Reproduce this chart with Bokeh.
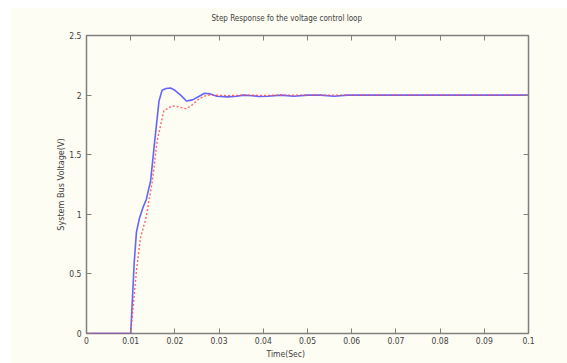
from bokeh.plotting import figure
from bokeh.models import Range1d, FixedTicker, LinearAxis, Title, CustomLabelingPolicy
from bokeh.embed import file_html
from bokeh.resources import INLINE

# Data
t_blue = [0.0, 0.0100, 0.0104, 0.0108, 0.0113, 0.0120, 0.0128, 0.0135, 0.0145, 0.01545,
          0.0164, 0.0171, 0.0180, 0.0190, 0.0198, 0.0213, 0.0226, 0.0240, 0.0255, 0.0267,
          0.0280, 0.0295, 0.0319, 0.0340, 0.0355, 0.0375, 0.0390, 0.0410, 0.0440, 0.0469,
          0.0500, 0.0530, 0.0560, 0.0590, 0.0650, 0.1000]
v_blue = [0.0, 0.0, 0.30, 0.60, 0.85, 0.97, 1.06, 1.12, 1.28, 1.62,
          1.95, 2.04, 2.055, 2.06, 2.045, 2.0, 1.95, 1.96, 1.99, 2.015,
          2.01, 1.99, 1.985, 1.99, 2.0, 1.995, 1.988, 1.99, 2.0, 1.99,
          2.0, 2.0, 1.99, 2.0, 2.0, 2.0]

t_red = [0.0, 0.0100, 0.0105, 0.0113, 0.0122, 0.0135, 0.0149, 0.0160, 0.0175, 0.0185,
         0.0194, 0.0210, 0.0226, 0.0240, 0.0255, 0.0273, 0.0290, 0.0320, 0.0360, 0.0400,
         0.0450, 0.0500, 0.1000]
v_red = [0.0, 0.0, 0.20, 0.53, 0.80, 0.975, 1.28, 1.62, 1.87, 1.89,
         1.91, 1.90, 1.885, 1.92, 1.97, 2.0, 2.0, 1.995, 2.0, 1.997,
         2.0, 2.0, 2.0]

x_ticks = [0, 0.01, 0.02, 0.03, 0.04, 0.05, 0.06, 0.07, 0.08, 0.09, 0.1]
x_labels = ["0", "0.01", "0.02", "0.03", "0.04", "0.05", "0.06", "0.07", "0.08", "0.09", "0.1"]
y_ticks = [0, 0.5, 1, 1.5, 2, 2.5]
y_labels = ["0", "0.5", "1", "1.5", "2", "2.5"]

title_text = "Step Response fo the voltage control loop"
x_title = "Time(Sec)"
y_title = "System Bus Voltage(V)"

BG = "#fdfdf3"
FRAME = "#808080"
TXT = "#404040"
FONT = "DejaVu Sans Condensed"

p = figure(width=557, height=356, margin=(7, 0, 0, 10),
           output_backend="svg", toolbar_location=None,
           x_range=Range1d(0, 0.1), y_range=Range1d(0, 2.5),
           min_border_left=76, min_border_right=39, min_border_top=28, min_border_bottom=30)
p.background_fill_color = BG
p.border_fill_color = BG
p.outline_line_color = FRAME
p.outline_line_width = 1.5
p.xgrid.visible = False
p.ygrid.visible = False

p.title.text = title_text
p.title.align = "left"
p.title.offset = 125
p.title.text_font = FONT
p.title.text_font_size = "8px"
p.title.text_font_style = "normal"
p.title.text_color = TXT
p.title.standoff = 0

no_labels = CustomLabelingPolicy(code="""
const ids = Array.from(indices)
for (const i of ids) { indices.unset(i) }
return indices
""")

def style_axis(ax, ticks, labels, show_labels=True):
    ax.ticker = FixedTicker(ticks=ticks)
    ax.major_label_overrides = {t: l for t, l in zip(ticks, labels)}
    ax.major_tick_in = 5
    ax.major_tick_out = 0
    ax.minor_tick_in = 0
    ax.minor_tick_out = 0
    ax.major_tick_line_color = FRAME
    ax.axis_line_color = None
    ax.major_label_text_font = FONT
    ax.major_label_text_font_size = "8.5px"
    ax.major_label_text_color = TXT
    ax.major_label_standoff = 3
    if not show_labels:
        ax.major_label_policy = no_labels

style_axis(p.xaxis[0], x_ticks, x_labels)
style_axis(p.yaxis[0], y_ticks, y_labels)
p.yaxis[0].major_label_standoff = 5
p.yaxis[0].axis_label = y_title
p.yaxis[0].axis_label_text_font = FONT
p.yaxis[0].axis_label_text_font_size = "9px"
p.yaxis[0].axis_label_text_font_style = "normal"
p.yaxis[0].axis_label_text_color = TXT
p.yaxis[0].axis_label_standoff = 0

top_ax = LinearAxis()
style_axis(top_ax, x_ticks, x_labels, show_labels=False)
p.add_layout(top_ax, "above")
right_ax = LinearAxis()
style_axis(right_ax, y_ticks, y_labels, show_labels=False)
p.add_layout(right_ax, "right")

p.add_layout(Title(text=x_title, align="left", offset=180, text_font=FONT,
                   text_font_size="8.5px", text_font_style="normal", text_color=TXT,
                   standoff=0), "below")

p.line(t_blue, v_blue, line_color="#4a4aff", line_width=1.6, line_alpha=0.85)
p.line(t_red, v_red, line_color="#ff4a4a", line_width=1.4, line_dash="2 2", line_alpha=0.85)

open("out.html", "w").write(file_html(p, INLINE))
